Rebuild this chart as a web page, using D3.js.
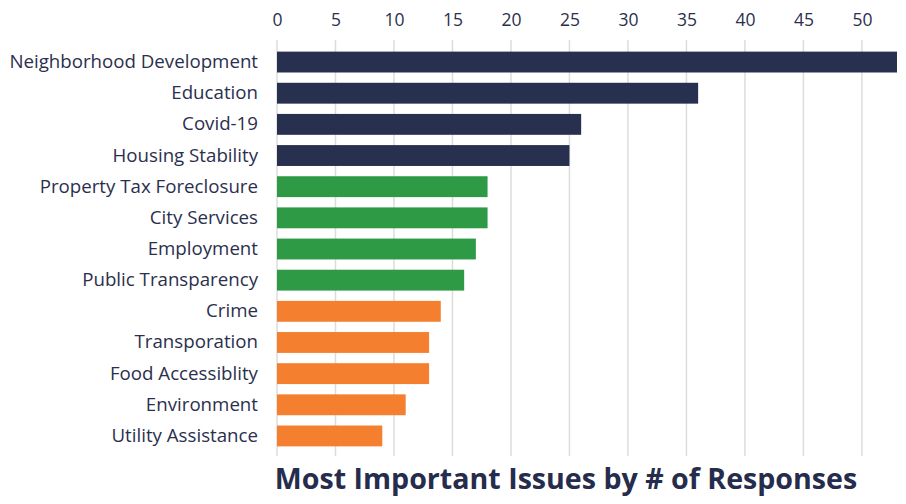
<!DOCTYPE html>
<html>
<head>
<meta charset="utf-8">
<script src="https://cdn.jsdelivr.net/npm/d3@7"></script>
<style>
  body { margin: 0; background: #fff; }
  svg { font-family: "Open Sans", sans-serif; }
</style>
</head>
<body>
<svg id="chart" width="906" height="504"></svg>
<script>
const issues = [
  "Neighborhood Development", "Education", "Covid-19", "Housing Stability",
  "Property Tax Foreclosure", "City Services", "Employment", "Public Transparency",
  "Crime", "Transporation", "Food Accessiblity", "Environment", "Utility Assistance"
];
const responses = [53, 36, 26, 25, 18, 18, 17, 16, 14, 13, 13, 11, 9];
const groups = ["top", "top", "top", "top", "mid", "mid", "mid", "mid", "low", "low", "low", "low", "low"];
const xTicks = [0, 5, 10, 15, 20, 25, 30, 35, 40, 45, 50];
const titleText = "Most Important Issues by # of Responses";

const svg = d3.select("#chart");
const margin = { top: 48.5, right: 9, bottom: 54.5, left: 277 };
const width = 906, height = 504;

const data = issues.map((d, i) => ({ name: d, value: responses[i], group: groups[i] }));

const x = d3.scaleLinear()
  .domain([0, 53])
  .range([margin.left, width - margin.right]);

const y = d3.scaleBand()
  .domain(issues)
  .range([margin.top, height - margin.bottom])
  .paddingInner(0.33)
  .paddingOuter(0.1);

const color = d3.scaleOrdinal()
  .domain(["top", "mid", "low"])
  .range(["#28304f", "#2f9a45", "#f47f2f"]);

// grid lines
svg.append("g")
  .selectAll("line")
  .data(xTicks)
  .join("line")
  .attr("x1", d => x(d))
  .attr("x2", d => x(d))
  .attr("y1", 40)
  .attr("y2", 456)
  .attr("stroke", "#dcdcdc")
  .attr("stroke-width", 1.5);

// top axis labels
svg.append("g")
  .attr("transform", `translate(0,26)`)
  .call(d3.axisTop(x).tickValues(xTicks).tickSize(0).tickPadding(0))
  .call(g => g.select(".domain").remove())
  .call(g => g.selectAll("text")
    .attr("fill", "#2b2f4e")
    .style("font-size", "17.5px")
    .style("font-family", "Open Sans, sans-serif"));

// bars
svg.append("g")
  .selectAll("rect")
  .data(data)
  .join("rect")
  .attr("x", x(0))
  .attr("y", d => y(d.name))
  .attr("width", d => x(d.value) - x(0))
  .attr("height", y.bandwidth())
  .attr("fill", d => color(d.group));

// category labels
svg.append("g")
  .attr("transform", `translate(${margin.left},0)`)
  .call(d3.axisLeft(y).tickSize(0).tickPadding(19))
  .call(g => g.select(".domain").remove())
  .call(g => g.selectAll("text")
    .attr("fill", "#2b2f4e")
    .style("font-size", "18.7px")
    .style("font-family", "Open Sans, sans-serif"));

// title
svg.append("text")
  .attr("x", 566)
  .attr("y", 489)
  .attr("text-anchor", "middle")
  .attr("fill", "#262c4c")
  .style("font-size", "28.6px")
  .style("font-weight", "700")
  .text(titleText);
</script>
</body>
</html>
